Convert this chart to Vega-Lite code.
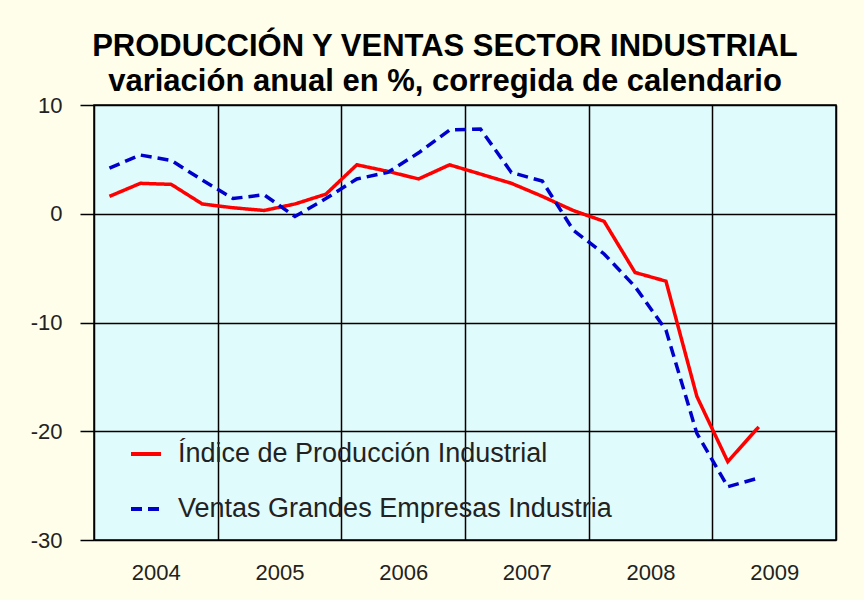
{
  "$schema": "https://vega.github.io/schema/vega-lite/v6.json",
  "width": 742,
  "height": 435,
  "autosize": "none",
  "padding": {"left": 94, "top": 105, "right": 28, "bottom": 60},
  "background": "#FEFEEA",
  "view": {"fill": "#E0FBFC", "stroke": "#000000", "strokeWidth": 1.5},
  "title": {
    "text": "PRODUCCIÓN Y VENTAS SECTOR INDUSTRIAL",
    "subtitle": "variación anual en %, corregida de calendario",
    "font": "Liberation Sans",
    "fontSize": 31,
    "fontWeight": "bold",
    "color": "#000000",
    "subtitleFont": "Liberation Sans",
    "subtitleFontSize": 31,
    "subtitleFontWeight": "bold",
    "subtitleColor": "#000000",
    "subtitlePadding": 4,
    "anchor": "middle",
    "dx": -20,
    "offset": -4
  },
  "data": {
    "values": [
      {"t": 2004.125, "serie": "Índice de Producción Industrial", "v": 1.6},
      {"t": 2004.375, "serie": "Índice de Producción Industrial", "v": 2.8},
      {"t": 2004.625, "serie": "Índice de Producción Industrial", "v": 2.7},
      {"t": 2004.875, "serie": "Índice de Producción Industrial", "v": 0.9},
      {"t": 2005.125, "serie": "Índice de Producción Industrial", "v": 0.55},
      {"t": 2005.375, "serie": "Índice de Producción Industrial", "v": 0.3},
      {"t": 2005.625, "serie": "Índice de Producción Industrial", "v": 0.9},
      {"t": 2005.875, "serie": "Índice de Producción Industrial", "v": 1.8},
      {"t": 2006.125, "serie": "Índice de Producción Industrial", "v": 4.5},
      {"t": 2006.375, "serie": "Índice de Producción Industrial", "v": 3.9},
      {"t": 2006.625, "serie": "Índice de Producción Industrial", "v": 3.2},
      {"t": 2006.875, "serie": "Índice de Producción Industrial", "v": 4.5},
      {"t": 2007.125, "serie": "Índice de Producción Industrial", "v": 3.65},
      {"t": 2007.375, "serie": "Índice de Producción Industrial", "v": 2.8},
      {"t": 2007.625, "serie": "Índice de Producción Industrial", "v": 1.6},
      {"t": 2007.875, "serie": "Índice de Producción Industrial", "v": 0.3},
      {"t": 2008.125, "serie": "Índice de Producción Industrial", "v": -0.7},
      {"t": 2008.375, "serie": "Índice de Producción Industrial", "v": -5.4},
      {"t": 2008.625, "serie": "Índice de Producción Industrial", "v": -6.2},
      {"t": 2008.875, "serie": "Índice de Producción Industrial", "v": -16.8},
      {"t": 2009.125, "serie": "Índice de Producción Industrial", "v": -22.8},
      {"t": 2009.375, "serie": "Índice de Producción Industrial", "v": -19.6},
      {"t": 2004.125, "serie": "Ventas Grandes Empresas Industria", "v": 4.2},
      {"t": 2004.375, "serie": "Ventas Grandes Empresas Industria", "v": 5.4},
      {"t": 2004.625, "serie": "Ventas Grandes Empresas Industria", "v": 4.9},
      {"t": 2004.875, "serie": "Ventas Grandes Empresas Industria", "v": 3.1},
      {"t": 2005.125, "serie": "Ventas Grandes Empresas Industria", "v": 1.4},
      {"t": 2005.375, "serie": "Ventas Grandes Empresas Industria", "v": 1.75},
      {"t": 2005.625, "serie": "Ventas Grandes Empresas Industria", "v": -0.25},
      {"t": 2005.875, "serie": "Ventas Grandes Empresas Industria", "v": 1.4},
      {"t": 2006.125, "serie": "Ventas Grandes Empresas Industria", "v": 3.2},
      {"t": 2006.375, "serie": "Ventas Grandes Empresas Industria", "v": 3.8},
      {"t": 2006.625, "serie": "Ventas Grandes Empresas Industria", "v": 5.6},
      {"t": 2006.875, "serie": "Ventas Grandes Empresas Industria", "v": 7.7},
      {"t": 2007.125, "serie": "Ventas Grandes Empresas Industria", "v": 7.8},
      {"t": 2007.375, "serie": "Ventas Grandes Empresas Industria", "v": 3.8},
      {"t": 2007.625, "serie": "Ventas Grandes Empresas Industria", "v": 3.0},
      {"t": 2007.875, "serie": "Ventas Grandes Empresas Industria", "v": -1.5},
      {"t": 2008.125, "serie": "Ventas Grandes Empresas Industria", "v": -3.7},
      {"t": 2008.375, "serie": "Ventas Grandes Empresas Industria", "v": -6.7},
      {"t": 2008.625, "serie": "Ventas Grandes Empresas Industria", "v": -10.7},
      {"t": 2008.875, "serie": "Ventas Grandes Empresas Industria", "v": -20.2},
      {"t": 2009.125, "serie": "Ventas Grandes Empresas Industria", "v": -25.1},
      {"t": 2009.375, "serie": "Ventas Grandes Empresas Industria", "v": -24.3}
    ]
  },
  "mark": {"type": "line", "strokeWidth": 3.5, "strokeCap": "butt", "strokeJoin": "miter"},
  "encoding": {
    "x": {
      "field": "t",
      "type": "quantitative",
      "scale": {"domain": [2004, 2010], "nice": false, "zero": false},
      "axis": {
        "title": null,
        "values": [2004, 2004.5, 2005, 2005.5, 2006, 2006.5, 2007, 2007.5, 2008, 2008.5, 2009, 2009.5, 2010],
        "labelExpr": "datum.value % 1 == 0 ? '' : '' + floor(datum.value)",
        "ticks": false,
        "domain": false,
        "grid": true,
        "gridColor": "#000000",
        "gridWidth": 1.5,
        "gridOpacity": {"condition": {"test": "datum.value % 1 == 0", "value": 1}, "value": 0},
        "labelFont": "Liberation Sans",
        "labelFontSize": 22,
        "labelColor": "#222222",
        "labelPadding": 22,
        "labelFlush": false,
        "labelOverlap": false
      }
    },
    "y": {
      "field": "v",
      "type": "quantitative",
      "scale": {"domain": [-30, 10], "nice": false, "zero": false},
      "axis": {
        "title": null,
        "values": [-30, -20, -10, 0, 10],
        "labelExpr": "'' + datum.value",
        "grid": true,
        "gridColor": "#000000",
        "gridWidth": 1.5,
        "domain": false,
        "ticks": true,
        "tickSize": 14,
        "tickColor": "#000000",
        "tickWidth": 1.5,
        "labelFont": "Liberation Sans",
        "labelFontSize": 22,
        "labelColor": "#222222",
        "labelPadding": 18
      }
    },
    "color": {
      "field": "serie",
      "type": "nominal",
      "scale": {
        "domain": ["Índice de Producción Industrial", "Ventas Grandes Empresas Industria"],
        "range": ["#FF0000", "#0000CC"]
      },
      "legend": {
        "title": null,
        "orient": "none",
        "legendX": 35,
        "legendY": 332,
        "padding": 0,
        "symbolType": "stroke",
        "symbolSize": 900,
        "symbolStrokeWidth": 4,
        "labelFont": "Liberation Sans",
        "labelFontSize": 27,
        "labelColor": "#222222",
        "labelOffset": 15,
        "labelLimit": 600,
        "rowPadding": 25
      }
    },
    "strokeDash": {
      "field": "serie",
      "type": "nominal",
      "scale": {
        "domain": ["Índice de Producción Industrial", "Ventas Grandes Empresas Industria"],
        "range": [[1, 0], [11, 6]]
      },
      "legend": null
    }
  }
}
